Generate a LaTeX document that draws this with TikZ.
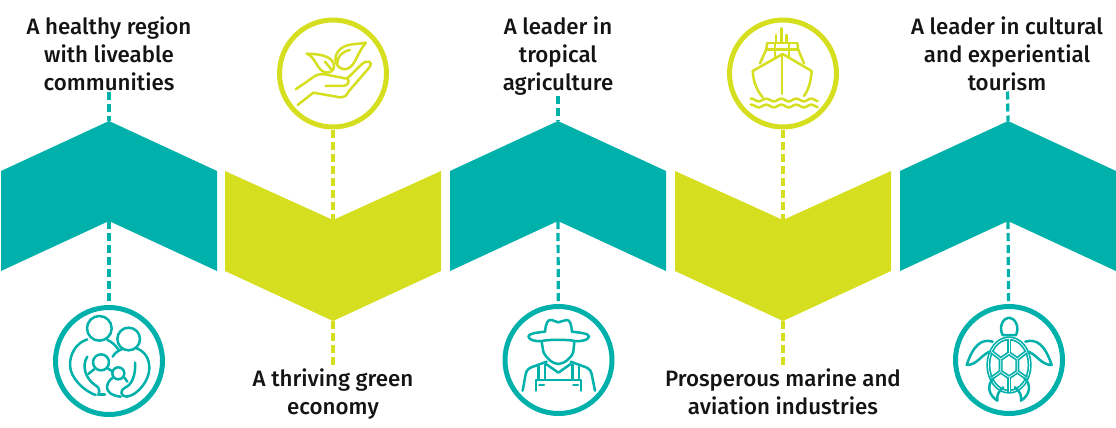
\documentclass[tikz,border=0pt]{standalone}
\usepackage{fontspec}
\setmainfont[BoldFont={Fira Sans Medium}]{Fira Sans}
\definecolor{tealc}{HTML}{00B0AA}
\definecolor{limec}{HTML}{D5DF20}
\tikzset{
  tealshape/.style={fill=tealc,draw=none},
  limeshape/.style={fill=limec,draw=none},
  label/.style={font=\fontsize{22.3}{28}\selectfont\bfseries,text=black!92,align=center,inner sep=0pt,anchor=north},
  ring/.style={circle,draw=#1,line width=5pt,fill=white,minimum size=107pt,inner sep=0pt},
  dashline/.style={draw=#1,line width=3.2pt,dash pattern=on 8pt off 4pt},
  icon/.style={draw=#1,line width=2.5pt,line cap=round,line join=round},
}
\newcommand{\tealchev}[2]{%
  \fill[tealshape] (#1-108,171) -- (#1,121) coordinate (#2top) -- (#1+108,171) -- (#1+108,271) -- (#1,221) coordinate (#2low) -- (#1-108,271) -- cycle;}
\newcommand{\limechev}[2]{%
  \fill[limeshape] (#1-108,171) -- (#1,220) coordinate (#2top) -- (#1+108,171) -- (#1+108,271) -- (#1,321) coordinate (#2low) -- (#1-108,271) -- cycle;}
\begin{document}
\begin{tikzpicture}[x=1pt,y=-1pt]
\useasboundingbox (0,0) rectangle (1116,428);
\tealchev{109}{ca}
\limechev{333}{cb}
\tealchev{558}{cc}
\limechev{783}{cd}
\tealchev{1008}{ce}
% labels
\node[label] (ta) at (109,17) {A healthy region\\with liveable\\communities};
\node[label] (tb) at (333,369) {A thriving green\\economy};
\node[label] (tc) at (558,17) {A leader in\\tropical\\agriculture};
\node[label] (td) at (783,369) {Prosperous marine and\\aviation industries};
\node[label] (te) at (1007,17) {A leader in cultural\\and experiential\\tourism};
% rings
\node[ring=tealc] (ra) at (109,361) {};
\node[ring=limec] (rb) at (333,73.5) {};
\node[ring=tealc] (rc) at (558.5,360) {};
\node[ring=limec] (rd) at (783,73.5) {};
\node[ring=tealc] (re) at (1009,360) {};
% connectors
\draw[dashline=tealc] (ta) -- (catop);
\draw[dashline=tealc] (calow) -- (ra);
\draw[dashline=limec] (rb) -- (cbtop);
\draw[dashline=limec] (cblow) -- (tb);
\draw[dashline=tealc] (tc) -- (cctop);
\draw[dashline=tealc] (cclow) -- (rc);
\draw[dashline=limec] (rd) -- (cdtop);
\draw[dashline=limec] (cdlow) -- (td);
\draw[dashline=tealc] (te) -- (cetop);
\draw[dashline=tealc] (celow) -- (re);
% family
\begin{scope}[shift={(30,290)},scale=1/3]
\draw[icon=tealc] (208,115) circle (37);
\draw[icon=tealc] (296,147) circle (34);
\draw[icon=tealc] (213,217) circle (24);
\draw[icon=tealc] (265,250) circle (18);
\draw[icon=tealc] (172,148) .. controls (135,160) and (120,195) .. (120,225) .. controls (120,265) and (165,305) .. (197,315);
\draw[icon=tealc] (232,150) .. controls (245,155) and (255,165) .. (265,178);
\draw[icon=tealc] (248,200) .. controls (255,188) and (265,182) .. (275,178);
\draw[icon=tealc] (320,175) .. controls (345,185) and (358,205) .. (358,235) .. controls (358,270) and (325,315) .. (290,320) .. controls (272,320) and (268,300) .. (285,293) .. controls (305,285) and (318,255) .. (315,218);
\draw[icon=tealc] (172,200) .. controls (155,225) and (165,265) .. (195,285) .. controls (205,290) and (212,300) .. (205,315);
\draw[icon=tealc] (175,252) -- (192,238);
\draw[icon=tealc] (233,235) -- (248,245);
\draw[icon=tealc] (207,313) -- (225,313);
\draw[icon=tealc] (247,264) .. controls (225,280) and (220,315) .. (272,320);
\draw[icon=tealc] (284,264) -- (292,275);
\end{scope}
% hand and leaves
\begin{scope}[shift={(260,0)},scale=1/3]
\draw[icon=limec] (107,268) -- (165,228) .. controls (175,222) and (185,222) .. (195,223) -- (240,232) .. controls (252,234) and (258,238) .. (262,235) -- (305,193) .. controls (320,178) and (340,185) .. (330,200) -- (268,272) .. controls (260,285) and (255,293) .. (240,292) -- (160,278) -- (113,315);
\draw[icon=limec] (197,258) -- (250,258) .. controls (265,256) and (270,245) .. (262,235);
\draw[icon=limec] (140,161) .. controls (185,162) and (222,170) .. (222,200) .. controls (222,215) and (205,222) .. (190,215) .. controls (170,205) and (165,170) .. (140,161);
\draw[icon=limec] (195,185) -- (213,207);
\draw[icon=limec] (318,128) .. controls (290,135) and (240,125) .. (227,170) .. controls (222,195) and (245,215) .. (265,205) .. controls (290,190) and (290,160) .. (318,128);
\draw[icon=limec] (270,150) .. controls (245,155) and (232,170) .. (232,190);
\end{scope}
% farmer
\begin{scope}[shift={(490,290)},scale=1/3]
\draw[icon=tealc] (165,125) .. controls (168,95) and (175,88) .. (185,90) .. controls (195,92) and (200,97) .. (205,97) .. controls (212,97) and (220,90) .. (230,90) .. controls (240,90) and (243,100) .. (246,125);
\draw[icon=tealc] (165,125) .. controls (140,128) and (115,130) .. (115,140) .. controls (118,150) and (135,155) .. (155,153) .. controls (180,148) and (230,148) .. (255,153) .. controls (275,155) and (295,150) .. (297,140) .. controls (297,130) and (270,128) .. (246,125);
\draw[icon=tealc] (155,155) -- (160,185) .. controls (168,205) and (190,222) .. (205,222) .. controls (220,222) and (245,205) .. (250,185) -- (253,155);
\draw[icon=tealc] (168,222) -- (205,248) -- (242,222);
\draw[icon=tealc] (98,302) -- (107,252) .. controls (110,238) and (120,232) .. (135,228) -- (170,215);
\draw[icon=tealc] (315,302) -- (305,252) .. controls (302,238) and (292,232) .. (277,228) -- (242,215);
\draw[icon=tealc] (145,230) -- (145,268);
\draw[icon=tealc] (165,224) -- (165,268);
\draw[icon=tealc] (247,224) -- (247,268);
\draw[icon=tealc] (267,230) -- (267,268);
\draw[icon=tealc] (138,302) -- (138,270) -- (273,270) -- (273,302);
\draw[icon=tealc] (148,285) -- (162,285);
\draw[icon=tealc] (250,285) -- (264,285);
\end{scope}
% ship
\begin{scope}[shift={(710,0)},scale=1/3]
\draw[icon=limec] (214,85) -- (214,128);
\draw[icon=limec] (198,105) -- (198,128);
\draw[icon=limec] (230,105) -- (230,128);
\draw[icon=limec] (172,129) -- (262,129);
\draw[icon=limec] (170,148) -- (262,148);
\draw[icon=limec] (172,129) -- (168,150) -- (150,190);
\draw[icon=limec] (262,129) -- (265,150) -- (282,190);
\draw[icon=limec] (195,130) -- (195,170);
\draw[icon=limec] (237,130) -- (237,170);
\draw[icon=limec] (158,292) .. controls (140,270) and (130,245) .. (128,213) -- (218,162) -- (305,213) .. controls (303,245) and (295,270) .. (282,288);
\draw[icon=limec] (216,165) -- (216,282);
\draw[icon=limec] plot[domain=122:323,samples=80,smooth] (\x,{300+4*sin(\x*8)});
\draw[icon=limec] plot[domain=122:323,samples=80,smooth] (\x,{318+4*sin(\x*8)});
\end{scope}
% turtle
\begin{scope}[shift={(940,290)},scale=1/3]
\draw[icon=tealc] (188,135) .. controls (175,110) and (190,83) .. (207,83) .. controls (224,83) and (240,110) .. (228,135) -- cycle;
\begin{scope}[every path/.style={draw=tealc,line width=1.7pt,double=white,double distance=0.7pt,line join=round}]
\draw (207,225) ellipse (62 and 80);
\draw (207,190) -- (232,207) -- (232,245) -- (207,262) -- (182,245) -- (182,207) -- cycle;
\draw (207,190) -- (207,147);
\draw (232,207) -- (260,185);
\draw (232,245) -- (260,265);
\draw (207,262) -- (207,305);
\draw (182,245) -- (154,265);
\draw (182,207) -- (154,185);
\end{scope}
\draw[icon=tealc] (158,155) .. controls (125,145) and (100,165) .. (80,225) .. controls (110,225) and (125,195) .. (148,185);
\draw[icon=tealc] (256,155) .. controls (290,145) and (315,165) .. (335,225) .. controls (305,225) and (290,195) .. (266,185);
\draw[icon=tealc] (160,265) .. controls (140,285) and (145,315) .. (172,332) .. controls (170,315) and (175,305) .. (190,292);
\draw[icon=tealc] (254,265) .. controls (275,285) and (270,315) .. (243,332) .. controls (245,315) and (240,305) .. (225,292);
\end{scope}
\end{tikzpicture}
\end{document}
